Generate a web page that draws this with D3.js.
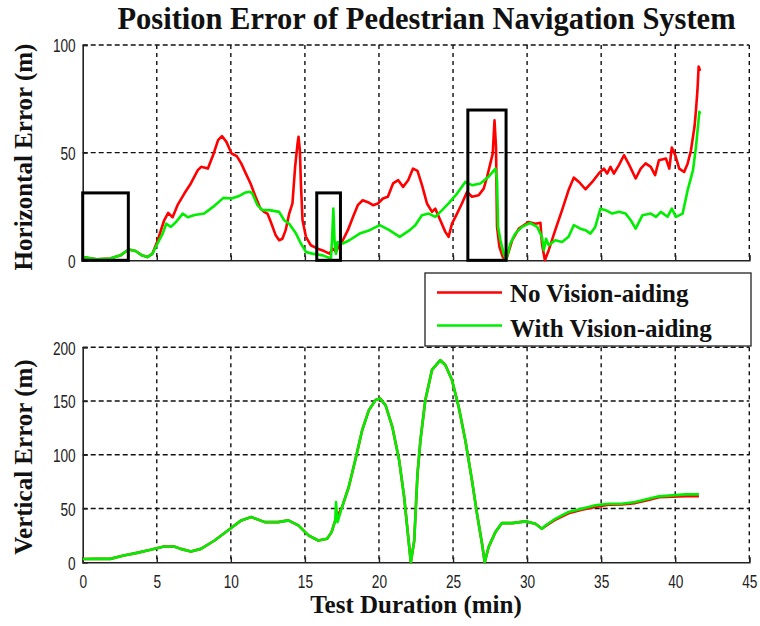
<!DOCTYPE html>
<html>
<head>
<meta charset="utf-8">
<script src="https://cdn.jsdelivr.net/npm/d3@7"></script>
<style>
  html, body { margin: 0; padding: 0; background: #fff; }
  svg { display: block; }
  .tick text { font-family: 'Liberation Sans', Arial, sans-serif; font-size: 19px; fill: #222; }
  .serif { font-family: 'Liberation Serif', 'Times New Roman', serif; font-weight: bold; fill: #111; }
</style>
</head>
<body>
<svg id="chart" width="760" height="626"></svg>
<script>
// Time axis (minutes)
const timeTicks = [0, 5, 10, 15, 20, 25, 30, 35, 40, 45];
const horizTicks = [0, 50, 100];
const vertTicks = [0, 50, 100, 150, 200];

// Horizontal error (m), [minute, metres]
const horizNoVision = [
  [0,1.5],[0.95,0.5],[1.86,0.8],[2.55,2.3],[3.1,5],[3.57,4.3],[4.0,2.3],[4.36,1.5],[4.7,3],
  [5.05,9],[5.5,18.6],[5.77,22],[6.07,20],[6.4,25.6],[6.86,31],[7.3,35.7],[7.77,41.9],[8.0,43.4],
  [8.45,42.6],[8.8,48.8],[9.14,55.8],[9.4,57.7],[9.7,55],[10.05,49.6],[10.4,48.4],[10.7,45],
  [11.0,40.5],[11.33,35.7],[11.67,29.5],[12.0,24],[12.24,22.5],[12.47,21.7],[12.7,17.8],[13.03,11.6],
  [13.26,9.3],[13.48,10],[13.7,14],[13.94,21.7],[14.16,26.4],[14.34,43.4],[14.5,54],[14.57,57.4],
  [14.66,51],[14.73,35.7],[14.84,18.6],[15.07,10.9],[15.4,7],[15.86,5.4],[16.3,4.3],[16.65,3.1],
  [16.88,5.4],[17.1,3.9],[17.28,6.5],[17.56,9.3],[17.9,14],[18.24,20],[18.57,25.6],[18.9,27.9],
  [19.25,27],[19.6,25.6],[19.93,26.4],[20.27,28.7],[20.6,29.5],[20.95,35.7],[21.3,37.2],[21.63,34.1],
  [21.97,37.2],[22.3,42.6],[22.6,41.5],[22.9,35],[23.24,26.4],[23.58,22.5],[23.8,24],[24.14,18.6],
  [24.48,13.2],[24.7,10.9],[24.93,17],[25.27,21.7],[25.6,26.4],[25.95,31.8],[26.28,29.5],[26.73,30.2],
  [27.07,33.3],[27.3,38.8],[27.52,45],[27.68,49.6],[27.8,65],[27.9,52.7],[27.97,15.5],[28.13,6.2],
  [28.36,1.5],[28.58,0],[28.99,9.3],[29.44,14.7],[30.1,17.8],[30.56,17],[30.9,17.4],[31.0,7.8],
  [31.2,0],[31.46,4.7],[31.9,14],[32.36,23.3],[32.8,32.6],[33.15,38.4],[33.5,36.4],[33.94,33],
  [34.4,36.4],[34.84,40.3],[35.18,42.6],[35.4,40.3],[35.63,43.4],[35.86,40.3],[36.2,44.2],[36.54,48.8],
  [36.9,44.2],[37.33,38],[37.67,42.6],[38.0,45],[38.35,43.4],[38.64,39.5],[38.9,46.5],[39.37,47.3],
  [39.6,42.6],[39.77,52.4],[40.0,48.8],[40.27,42.6],[40.6,41],[40.84,45],[41.06,51],[41.3,62],
  [41.4,69.8],[41.5,79],[41.58,90],[41.68,88]
];
const horizWithVision = [
  [0,1.5],[0.95,0.5],[1.86,0.8],[2.55,2.3],[3.1,5],[3.57,4.3],[4.0,2.3],[4.36,1.5],[4.7,3],
  [5.05,7.8],[5.4,12.4],[5.64,17],[5.95,15.5],[6.3,17.8],[6.75,21.7],[7.1,20],[7.55,21],[8.2,21.7],
  [8.8,24.8],[9.5,29],[10.05,28.7],[10.6,30],[11.0,31.5],[11.3,31.8],[11.45,31],[11.8,25.6],
  [12.13,23.3],[12.6,23.3],[13.26,22.5],[13.6,18.6],[13.94,17],[14.4,12.4],[14.73,7.8],[15.07,3.9],
  [15.5,3.1],[16.2,2.3],[16.76,0.8],[16.85,12],[16.92,24],[17.0,9.3],[17.1,3],[17.2,8.5],[17.56,7.8],
  [18.0,9.3],[18.7,12.4],[19.37,14],[20.05,16.3],[20.7,14],[21.4,10.9],[22.08,14],[22.45,16.3],
  [22.9,20.9],[23.36,21.7],[23.8,20.2],[24.26,23.3],[24.7,26.4],[25.27,31],[25.83,36.4],[26.28,34.9],
  [26.85,35.7],[27.4,38.8],[27.86,42.6],[27.97,37.2],[28.04,15.5],[28.2,9.3],[28.42,3.1],[28.58,0],
  [28.87,7.8],[29.2,12.4],[29.66,15.5],[30.2,17.4],[30.68,15.5],[31.0,10.9],[31.13,4.7],[31.28,10],
  [31.46,7],[31.9,9.3],[32.36,8.5],[32.8,10.9],[33.15,16.3],[33.6,14.7],[33.94,14],[34.28,12.4],
  [34.6,15.5],[34.95,24],[35.3,23.3],[35.75,21.7],[36.2,22.5],[36.65,21.7],[37.0,18.6],[37.33,14.7],
  [37.78,20.9],[38.35,21.7],[38.7,20.2],[39.03,22.5],[39.48,20.2],[39.77,24],[40.05,20.2],[40.5,21.7],
  [40.84,32.6],[41.2,41.9],[41.4,52.7],[41.63,69],[41.68,68]
];

// Vertical error (m), [minute, metres]
const vertNoVision = [
  [0,3],[0.95,3.1],[1.86,3.1],[2.77,6.2],[3.67,8.7],[4.58,11.5],[5.49,14.6],[6.17,14.6],[6.62,12.4],
  [7.3,10],[7.98,12.4],[8.9,20.2],[9.8,29.5],[10.7,38.9],[11.38,42],[12.3,37.3],[13.2,37.3],[13.88,38.9],
  [14.56,34.2],[15.24,24.9],[15.9,20.2],[16.5,21.8],[16.8,28],[17.05,38.9],[17.5,51],[17.96,70],
  [18.4,95],[18.87,123],[19.32,141.5],[19.77,150.9],[20.07,152.4],[20.45,146],[20.9,126],[21.36,95],
  [21.7,60.7],[21.93,29.5],[22.15,0],[22.38,20],[22.6,82],[22.8,113.5],[23.13,151],[23.58,179],
  [24.14,188],[24.48,183.5],[24.93,169.5],[25.38,144.6],[25.83,113.5],[26.28,76],[26.62,45],[26.96,17],
  [27.14,0],[27.4,14],[27.86,28],[28.3,36.4],[28.99,36.4],[29.89,38],[30.56,35.8],[31.0,31.1],
  [31.24,33.5],[31.9,39.5],[32.8,45.5],[33.7,48.8],[34.6,51.5],[35.5,53.5],[36.4,53.8],[37.3,55],
  [38.2,58],[38.9,60.5],[39.8,61],[40.7,61.5],[41.6,61.5]
];
const vertWithVision = [
  [0,3],[0.95,3.1],[1.86,3.1],[2.77,6.2],[3.67,8.7],[4.58,11.5],[5.49,14.6],[6.17,14.6],[6.62,12.4],
  [7.3,10],[7.98,12.4],[8.9,20.2],[9.8,29.5],[10.7,38.9],[11.38,42],[12.3,37.3],[13.2,37.3],[13.88,38.9],
  [14.56,34.2],[15.24,24.9],[15.9,20.2],[16.5,21.8],[16.8,28],[17.05,38.9],[17.1,56],[17.2,37.3],
  [17.5,51],[17.96,70],[18.4,95],[18.87,123],[19.32,141.5],[19.77,150.9],[20.07,152.4],[20.45,146],
  [20.9,126],[21.36,95],[21.7,60.7],[21.93,29.5],[22.15,0],[22.38,20],[22.6,82],[22.8,113.5],
  [23.13,151],[23.58,179],[24.14,188],[24.48,183.5],[24.93,169.5],[25.38,144.6],[25.83,113.5],[26.28,76],
  [26.62,45],[26.96,17],[27.14,0],[27.4,14],[27.86,28],[28.3,36.4],[28.99,36.4],[29.89,38],[30.56,35.8],
  [31.0,31.1],[31.24,34.2],[31.9,40.4],[32.8,46.7],[33.7,49.8],[34.6,52.9],[35.5,54.4],[36.4,54.4],
  [37.3,56],[38.2,59],[38.9,61.3],[39.8,62.2],[40.7,63.1],[41.6,63.1]
];

// Highlighted intervals on the horizontal panel: [start min, end min, height m]
const highlightBoxes = [[0, 3.08, 31.3], [15.8, 17.4, 31.3], [26.0, 28.58, 69.8]];

const seriesNames = ["No Vision-aiding", "With Vision-aiding"];
const seriesColors = ["#ff0000", "#00ee00"];

const svg = d3.select("#chart");
const x = d3.scaleLinear().domain([0, 45]).range([82.7, 749.3]);
const yH = d3.scaleLinear().domain([0, 100]).range([260.3, 45]);
const yV = d3.scaleLinear().domain([0, 200]).range([562.2, 347.3]);

// horizontally condensed numerals for the tick labels
const NARROW = 0.72;
function narrowLabels(sel) {
  sel.selectAll(".tick text").each(function () {
    const t = d3.select(this);
    const x0 = +t.attr("x") || 0;
    t.attr("x", x0 / NARROW).attr("transform", `scale(${NARROW},1)`);
  });
}

function panel(y, yTicks, showXLabels) {
  const g = svg.append("g");
  const [y0, y1] = y.range();
  // dashed grid
  g.selectAll(".gx").data(timeTicks.filter(t => t > 0)).join("line")
    .attr("x1", d => x(d)).attr("x2", d => x(d)).attr("y1", y1).attr("y2", y0)
    .attr("stroke", "#111").attr("stroke-width", 1.4).attr("stroke-dasharray", "4,4");
  g.selectAll(".gy").data(yTicks.filter(t => t > 0)).join("line")
    .attr("x1", x(0)).attr("x2", x(45)).attr("y1", d => y(d)).attr("y2", d => y(d))
    .attr("stroke", "#111").attr("stroke-width", 1.4).attr("stroke-dasharray", "5,3");
  // axes
  const ax = g.append("g").attr("transform", `translate(0,${y0})`)
    .call(d3.axisBottom(x).tickValues(timeTicks).tickSize(-5).tickPadding(12)
      .tickFormat(showXLabels ? d3.format("d") : () => ""));
  const ay = g.append("g").attr("transform", `translate(${x(0)},0)`)
    .call(d3.axisLeft(y).tickValues(yTicks).tickSize(-5).tickPadding(7).tickFormat(d3.format("d")));
  ay.selectAll(".tick text").attr("dy", "0.36em");
  [ax, ay].forEach(a => {
    a.select(".domain").attr("stroke", "#222").attr("stroke-width", 1.6);
    a.selectAll(".tick line").attr("stroke", "#222").attr("stroke-width", 1.4);
    narrowLabels(a);
  });
  return g;
}

const gH = panel(yH, horizTicks, false);
const gV = panel(yV, vertTicks, true);

const lineH = d3.line().x(d => x(d[0])).y(d => yH(d[1]));
const lineV = d3.line().x(d => x(d[0])).y(d => yV(d[1]));

[[horizNoVision, 0], [horizWithVision, 1]].forEach(([data, i]) => {
  gH.append("path").datum(data).attr("d", lineH).attr("fill", "none")
    .attr("stroke", seriesColors[i]).attr("stroke-width", 2.6).attr("stroke-linejoin", "round");
});
[[vertNoVision, 0], [vertWithVision, 1]].forEach(([data, i]) => {
  gV.append("path").datum(data).attr("d", lineV).attr("fill", "none")
    .attr("stroke", seriesColors[i]).attr("stroke-width", 2.6).attr("stroke-linejoin", "round");
});

// highlight rectangles
gH.selectAll(".hl").data(highlightBoxes).join("rect")
  .attr("x", d => x(d[0])).attr("y", d => yH(d[2]))
  .attr("width", d => x(d[1]) - x(d[0])).attr("height", d => yH(0) - yH(d[2]))
  .attr("fill", "none").attr("stroke", "#000").attr("stroke-width", 3);

// title and axis titles
svg.append("text").attr("class", "serif").attr("x", 426.5).attr("y", 29)
  .attr("text-anchor", "middle").attr("font-size", 30.5)
  .text("Position Error of Pedestrian Navigation System");
svg.append("text").attr("class", "serif").attr("transform", "translate(32,157) rotate(-90)")
  .attr("text-anchor", "middle").attr("font-size", 25).text("Horizontal Error (m)");
svg.append("text").attr("class", "serif").attr("transform", "translate(32,457) rotate(-90)")
  .attr("text-anchor", "middle").attr("font-size", 25).text("Vertical Error (m)");
svg.append("text").attr("class", "serif").attr("x", 416).attr("y", 613)
  .attr("text-anchor", "middle").attr("font-size", 25).text("Test Duration (min)");

// legend
const lg = svg.append("g");
lg.append("rect").attr("x", 425).attr("y", 273).attr("width", 326).attr("height", 73)
  .attr("fill", "#fff").attr("stroke", "#222").attr("stroke-width", 1.3);
seriesNames.forEach((name, i) => {
  const cy = [292.5, 325.5][i];
  lg.append("line").attr("x1", 437).attr("x2", 502).attr("y1", cy).attr("y2", cy)
    .attr("stroke", seriesColors[i]).attr("stroke-width", 2.6);
  lg.append("text").attr("class", "serif").attr("x", 510).attr("y", [301.5, 337][i])
    .attr("font-size", 25).text(name);
});
</script>
</body>
</html>
